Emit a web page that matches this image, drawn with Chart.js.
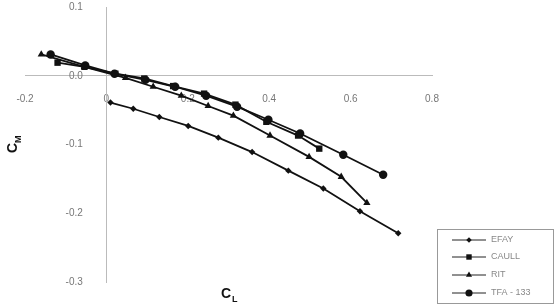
<!DOCTYPE html>
<html>
<head>
<meta charset="utf-8">
<script src="https://cdn.jsdelivr.net/npm/chart.js@4.4.1/dist/chart.umd.min.js"></script>
<style>
  html, body { margin: 0; padding: 0; background: #fff; }
  #wrap { width: 555px; height: 307px; }
</style>
</head>
<body>
<div id="wrap"><canvas id="chart" width="555" height="307"></canvas></div>
<script>
const seriesLabels = ["EFAY", "CAULL", "RIT", "TFA - 133"];

const efayCL = [0.010, 0.066, 0.130, 0.201, 0.275, 0.358, 0.447, 0.533, 0.623, 0.717];
const efayCM = [-0.039, -0.048, -0.060, -0.073, -0.090, -0.111, -0.138, -0.164, -0.197, -0.229];

const caullCL = [-0.120, -0.054, 0.022, 0.093, 0.164, 0.240, 0.317, 0.393, 0.471, 0.523];
const caullCM = [0.019, 0.013, 0.003, -0.004, -0.015, -0.026, -0.042, -0.067, -0.087, -0.106];

const ritCL = [-0.160, -0.054, 0.047, 0.115, 0.184, 0.250, 0.312, 0.402, 0.498, 0.577, 0.640];
const ritCM = [0.031, 0.013, -0.003, -0.016, -0.029, -0.044, -0.058, -0.087, -0.118, -0.147, -0.185];

const tfaCL = [-0.137, -0.052, 0.020, 0.096, 0.169, 0.245, 0.321, 0.398, 0.476, 0.582, 0.680];
const tfaCM = [0.031, 0.015, 0.003, -0.006, -0.016, -0.029, -0.045, -0.064, -0.084, -0.115, -0.144];

const xTicks = [-0.2, 0, 0.2, 0.4, 0.6, 0.8];
const yTicks = [0.1, 0.0, -0.1, -0.2, -0.3];

function toPoints(xs, ys) {
  return xs.map((x, i) => ({ x: x, y: ys[i] }));
}

function makeSet(label, xs, ys, style, radius) {
  return {
    label: label,
    data: toPoints(xs, ys),
    showLine: true,
    borderColor: "#111",
    backgroundColor: "#111",
    borderWidth: 1.8,
    pointStyle: style,
    pointRadius: radius,
    pointHoverRadius: radius,
    pointBorderWidth: 0,
    yAxisID: "y"
  };
}

const datasets = [
  makeSet(seriesLabels[0], efayCL, efayCM, "rectRot", 3.2),
  makeSet(seriesLabels[1], caullCL, caullCM, "rect", 4.5),
  makeSet(seriesLabels[2], ritCL, ritCM, "triangle", 4.2),
  makeSet(seriesLabels[3], tfaCL, tfaCM, "circle", 4.2)
];

const decorations = {
  id: "decorations",
  afterDraw(chart) {
    const ctx = chart.ctx;
    ctx.save();
    ctx.fillStyle = "#111";
    ctx.textBaseline = "alphabetic";

    // y title C_M
    ctx.save();
    ctx.translate(17, 145);
    ctx.rotate(-Math.PI / 2);
    ctx.font = "bold 14px 'Liberation Sans', Arial, sans-serif";
    ctx.fillText("C", -8, 0);
    ctx.font = "bold 9px 'Liberation Sans', Arial, sans-serif";
    ctx.fillText("M", 2, 4);
    ctx.restore();

    // x title C_L
    ctx.font = "bold 14px 'Liberation Sans', Arial, sans-serif";
    ctx.fillText("C", 221, 298);
    ctx.font = "bold 9px 'Liberation Sans', Arial, sans-serif";
    ctx.fillText("L", 232, 302);

    // legend
    const bx = 437, by = 229, bw = 116, bh = 74;
    ctx.strokeStyle = "#999";
    ctx.lineWidth = 1;
    ctx.strokeRect(bx + 0.5, by + 0.5, bw, bh);
    const rows = [240, 257, 275, 293];
    chart.data.datasets.forEach((ds, i) => {
      const y = rows[i];
      ctx.strokeStyle = "#222";
      ctx.lineWidth = 1;
      ctx.beginPath();
      ctx.moveTo(452, y);
      ctx.lineTo(486, y);
      ctx.stroke();
      ctx.fillStyle = "#111";
      Chart.helpers.drawPoint(ctx, {
        pointStyle: ds.pointStyle,
        radius: ds.pointRadius * 0.85,
        borderWidth: 0
      }, 469, y);
      ctx.fillStyle = "#888";
      ctx.font = "9px 'Liberation Sans', Arial, sans-serif";
      ctx.textBaseline = "middle";
      ctx.fillText(ds.label, 491, y);
    });
    ctx.restore();
  }
};

const tickFont = { family: "'Liberation Sans', Arial, sans-serif", size: 10 };
const yLabel = (v) => (Math.abs(v) < 1e-9 ? "0.0" : Number(v).toFixed(1));

new Chart(document.getElementById("chart"), {
  type: "scatter",
  data: { datasets: datasets },
  options: {
    responsive: false,
    animation: false,
    layout: { padding: { left: 25, right: 123, top: 7, bottom: 25 } },
    plugins: {
      legend: { display: false },
      tooltip: { enabled: false }
    },
    scales: {
      x: {
        type: "linear",
        min: -0.2,
        max: 0.8,
        position: { y: 0 },
        afterBuildTicks: (axis) => { axis.ticks = xTicks.map((v) => ({ value: v })); },
        afterFit: (axis) => { axis.paddingLeft = 8; axis.paddingRight = 8; },
        ticks: {
          color: "#777",
          padding: 17,
          font: tickFont,
          callback: (v) => (Math.abs(v) < 1e-9 ? "0" : Number(v).toFixed(1))
        },
        grid: { display: false, drawTicks: false },
        border: { display: true, color: "#bbb", width: 1, dash: [2, 2] }
      },
      y: {
        type: "linear",
        min: -0.3,
        max: 0.1,
        position: { x: 0 },
        afterBuildTicks: (axis) => { axis.ticks = yTicks.map((v) => ({ value: v })); },
        afterFit: (axis) => { axis.paddingTop = 5; axis.paddingBottom = 5; },
        ticks: { display: false },
        grid: { display: false, drawTicks: false },
        border: { display: true, color: "#bbb", width: 1, dash: [2, 2] }
      },
      // label column for the value axis, set back from the axis line
      yLabels: {
        type: "linear",
        axis: "y",
        min: -0.3,
        max: 0.1,
        position: { x: -0.058 },
        afterBuildTicks: (axis) => { axis.ticks = yTicks.map((v) => ({ value: v })); },
        afterFit: (axis) => { axis.paddingTop = 5; axis.paddingBottom = 5; },
        ticks: { color: "#777", padding: 0, font: tickFont, callback: yLabel },
        grid: { display: false, drawTicks: false },
        border: { display: false }
      }
    }
  },
  plugins: [decorations]
});
</script>
</body>
</html>
